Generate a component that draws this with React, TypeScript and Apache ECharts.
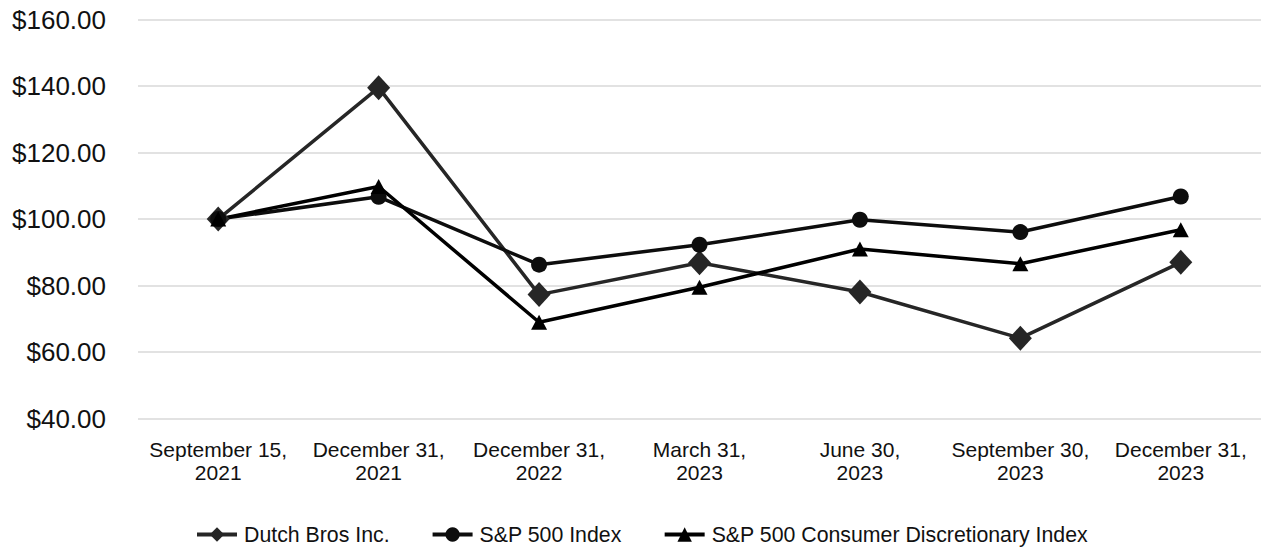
import React, { useEffect, useRef } from "react";
import * as echarts from "echarts";

const categories = [
  "September 15,\n2021",
  "December 31,\n2021",
  "December 31,\n2022",
  "March 31,\n2023",
  "June 30,\n2023",
  "September 30,\n2023",
  "December 31,\n2023",
];
const dutchBros = [100, 139.5, 77.3, 86.9, 78.1, 64.2, 87.0];
const sp500 = [100, 106.7, 86.3, 92.3, 99.8, 96.1, 106.8];
const spConsDisc = [100, 109.8, 69.0, 79.5, 91.0, 86.6, 96.8];
const seriesNames = [
  "Dutch Bros Inc.",
  "S&P 500 Index",
  "S&P 500 Consumer Discretionary Index",
];
const yMin = 40;
const yMax = 160;
const yStep = 20;

const FONT = "'Liberation Sans', Arial, Helvetica, sans-serif";

export default function App() {
  const ref = useRef<HTMLDivElement>(null);
  useEffect(() => {
    document.body.style.margin = "0";
    if (!ref.current) return;
    const chart = echarts.init(ref.current, undefined, { renderer: "svg" });
    const mk = (name: string, data: number[], color: string, symbol: string, size: number | number[]) => ({
      name,
      type: "line",
      data,
      symbol,
      symbolSize: size,
      showAllSymbol: true,
      lineStyle: { color, width: 3.5 },
      itemStyle: { color, borderWidth: 0 },
      emphasis: { disabled: true },
    });
    chart.setOption({
      animation: false,
      textStyle: { fontFamily: FONT },
      grid: { left: 138, right: 0, top: 19.5, bottom: 129.3, containLabel: false },
      legend: {
        left: 195,
        top: 524,
        padding: 0,
        itemWidth: 40,
        itemHeight: 18,
        itemGap: 41,
        lineStyle: { width: 4 },
        textStyle: { fontSize: 21.3, color: "#111", fontFamily: FONT, padding: [0, 0, 0, 2] },
        data: seriesNames,
      },
      xAxis: {
        type: "category",
        data: categories,
        boundaryGap: true,
        axisLine: { show: false },
        axisTick: { show: false },
        axisLabel: {
          fontSize: 21,
          lineHeight: 23,
          color: "#111",
          margin: 19,
          interval: 0,
          fontFamily: FONT,
        },
      },
      yAxis: {
        type: "value",
        min: yMin,
        max: yMax,
        interval: yStep,
        axisLine: { show: false },
        axisTick: { show: false },
        splitLine: { lineStyle: { color: "#d9d9d9", width: 1.5 } },
        axisLabel: {
          fontSize: 26,
          color: "#111",
          margin: 32,
          fontFamily: FONT,
          formatter: (v: number) => "$" + v.toFixed(2),
        },
      },
      series: [
        mk(seriesNames[0], dutchBros, "#262626", "diamond", [23, 25]),
        mk(seriesNames[1], sp500, "#0d0d0d", "circle", 16),
        mk(seriesNames[2], spConsDisc, "#000000", "triangle", [16, 15]),
      ],
    });
    return () => chart.dispose();
  }, []);
  return <div ref={ref} style={{ width: 1261, height: 548 }} />;
}
